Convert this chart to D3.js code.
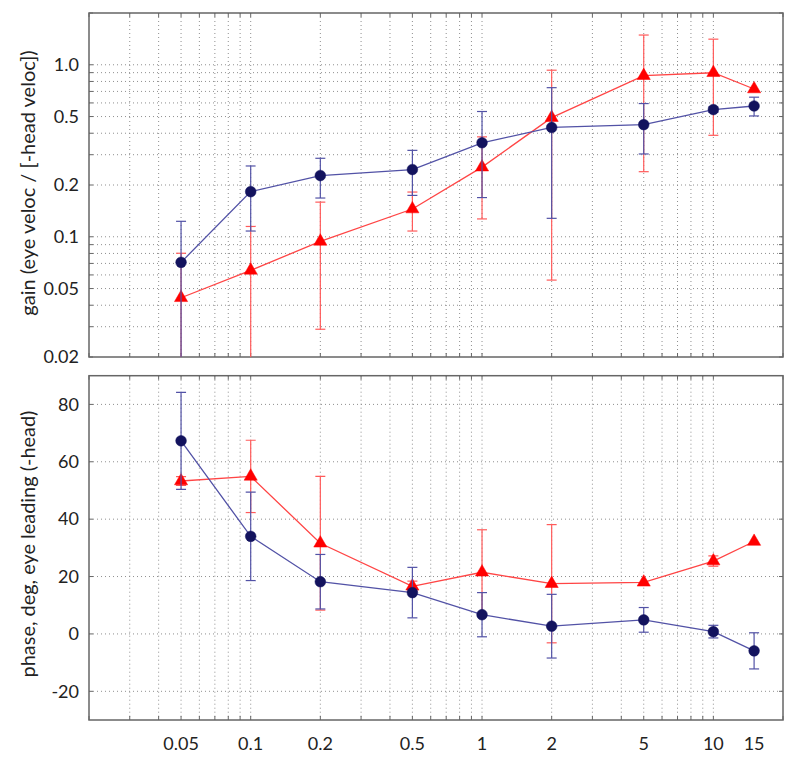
<!DOCTYPE html>
<html>
<head>
<meta charset="utf-8">
<script src="https://cdn.jsdelivr.net/npm/d3@7/dist/d3.min.js"></script>
<style>
  body { margin: 0; background: #fff; }
  svg { display: block; }
  text { font-family: Lato, "Open Sans", "DejaVu Sans", sans-serif; fill: #222; }
</style>
</head>
<body>
<svg id="chart" width="800" height="765"></svg>
<script>
// ---------- data ----------
const freqs = [0.05, 0.1, 0.2, 0.5, 1, 2, 5, 10, 15];
const xTickValues = [0.05, 0.1, 0.2, 0.5, 1, 2, 5, 10, 15];
const xTickLabels = ["0.05", "0.1", "0.2", "0.5", "1", "2", "5", "10", "15"];

const gainBlue    = [0.071, 0.183, 0.227, 0.246, 0.352, 0.432, 0.449, 0.549, 0.576];
const gainBlueErr = [0.052, 0.075, 0.059, 0.072, 0.183, 0.304, 0.146, 0.020, 0.072];
const gainRed     = [0.0442, 0.0638, 0.094, 0.145, 0.254, 0.493, 0.864, 0.899, 0.723];
const gainRedErr  = [0.036, 0.051, 0.065, 0.037, 0.127, 0.437, 0.625, 0.510, 0];

const phaseBlue    = [67.3, 34.0, 18.2, 14.4, 6.7, 2.7, 4.9, 0.8, -5.9];
const phaseBlueErr = [16.9, 15.4, 9.5, 8.8, 7.7, 11.1, 4.3, 2.2, 6.3];
const phaseRed     = [53.3, 54.9, 31.6, 16.6, 21.5, 17.5, 18.0, 25.4, 32.2];
const phaseRedErr  = [1.5, 12.6, 23.3, 1.8, 14.8, 20.6, 0, 1.8, 0];

const gainTickValues = [0.02, 0.05, 0.1, 0.2, 0.5, 1.0];
const gainTickLabels = ["0.02", "0.05", "0.1", "0.2", "0.5", "1.0"];
const phaseTickValues = [-20, 0, 20, 40, 60, 80];
const phaseTickLabels = ["-20", "0", "20", "40", "60", "80"];

const gainTitle = "gain (eye veloc / [-head veloc])";
const phaseTitle = "phase, deg, eye leading (-head)";

// ---------- styles ----------
const blueLine = "#5252a6", blueMarker = "#13135e";
const redLine = "#ff4545", redErrColor = "#ff5a5a", redMarker = "#ff0000";
const gridColor = "#8f8f8f", boxColor = "#666";

const svg = d3.select("#chart");
const left = 89, right = 783;

const x = d3.scaleLog().domain([0.02, 20]).range([left, right]);

function logMinor(lo, hi) {
  const out = [];
  for (let e = Math.floor(Math.log10(lo)); e <= Math.ceil(Math.log10(hi)); e++) {
    for (let m = 1; m <= 9; m++) {
      const v = m * Math.pow(10, e);
      if (v >= lo * 0.9999 && v <= hi * 1.0001) out.push(v);
    }
  }
  return out;
}
const xGrid = logMinor(0.02, 20);

function panel(cfg) {
  const g = svg.append("g");
  const y = cfg.y;
  const [yb, yt] = y.range();
  const clipId = "clip" + cfg.id;
  svg.append("defs").append("clipPath").attr("id", clipId)
    .append("rect").attr("x", left).attr("y", yt).attr("width", right - left).attr("height", yb - yt);

  const grid = g.append("g");
  grid.selectAll("line.vx").data(xGrid.filter(v => x(v) > left + 1 && x(v) < right - 1)).enter()
    .append("line").attr("x1", d => x(d)).attr("x2", d => x(d)).attr("y1", yt).attr("y2", yb)
    .attr("stroke", gridColor).attr("stroke-width", 1).attr("stroke-dasharray", "1,3");
  grid.selectAll("line.hy").data(cfg.yGrid.filter(v => y(v) > yt + 1 && y(v) < yb - 1)).enter()
    .append("line").attr("x1", left).attr("x2", right).attr("y1", d => y(d)).attr("y2", d => y(d))
    .attr("stroke", gridColor).attr("stroke-width", 1).attr("stroke-dasharray", "1,3");

  const ticks = g.append("g").attr("stroke", boxColor).attr("stroke-width", 1);
  xGrid.forEach(v => {
    const len = 4;
    ticks.append("line").attr("x1", x(v)).attr("x2", x(v)).attr("y1", yb).attr("y2", yb - len);
    ticks.append("line").attr("x1", x(v)).attr("x2", x(v)).attr("y1", yt).attr("y2", yt + len);
  });
  cfg.yGrid.forEach(v => {
    const len = 4;
    ticks.append("line").attr("x1", left).attr("x2", left + len).attr("y1", y(v)).attr("y2", y(v));
    ticks.append("line").attr("x1", right).attr("x2", right - len).attr("y1", y(v)).attr("y2", y(v));
  });

  g.append("rect").attr("x", left).attr("y", yt).attr("width", right - left).attr("height", yb - yt)
    .attr("fill", "none").attr("stroke", boxColor).attr("stroke-width", 1.5);

  g.selectAll("text.yl").data(cfg.yTicks).enter().append("text")
    .attr("x", 79).attr("y", d => y(d)).attr("dy", "0.35em")
    .attr("text-anchor", "end").attr("font-size", 18)
    .text((d, i) => cfg.yLabels[i]);

  // y title, sized to match the reference length
  const t = g.append("text")
    .attr("transform", `translate(35,${cfg.titleY}) rotate(-90)`)
    .attr("text-anchor", "middle").attr("font-size", 18)
    .text(cfg.title);
  const len = t.node().getComputedTextLength();
  if (len > 0) t.attr("font-size", Math.min(20, Math.max(15, 18 * cfg.titleLen / len)));

  const plot = g.append("g").attr("clip-path", `url(#${clipId})`);
  const yMin = y.domain()[0];
  function series(vals, errs, lineColor, errColor, markerColor, shape) {
    const sg = plot.append("g");
    vals.forEach((v, i) => {
      const e = errs[i];
      if (!e) return;
      const hi = v + e;
      const lo = v - e;
      const loClipped = cfg.log ? lo <= yMin : false;
      const yHi = y(hi);
      const yLo = loClipped ? yb + 5 : y(lo);
      const cx = x(freqs[i]);
      sg.append("line").attr("x1", cx).attr("x2", cx).attr("y1", yHi).attr("y2", yLo)
        .attr("stroke", errColor).attr("stroke-width", 1.2);
      sg.append("line").attr("x1", cx - 5).attr("x2", cx + 5).attr("y1", yHi).attr("y2", yHi)
        .attr("stroke", errColor).attr("stroke-width", 1.2);
      if (!loClipped)
        sg.append("line").attr("x1", cx - 5).attr("x2", cx + 5).attr("y1", yLo).attr("y2", yLo)
          .attr("stroke", errColor).attr("stroke-width", 1.2);
    });
    sg.append("path").datum(vals)
      .attr("d", d3.line().x((d, i) => x(freqs[i])).y(d => y(d)))
      .attr("fill", "none").attr("stroke", lineColor).attr("stroke-width", 1.3);
    const sym = d3.symbol().type(shape === "circle" ? d3.symbolCircle : d3.symbolTriangle)
      .size(shape === "circle" ? 90 : 75);
    sg.selectAll("path.m").data(vals).enter().append("path")
      .attr("transform", (d, i) => `translate(${x(freqs[i])},${y(d)})`)
      .attr("d", sym).attr("fill", markerColor).attr("stroke", markerColor).attr("stroke-width", 0.5);
  }
  series(cfg.red, cfg.redErr, redLine, redErrColor, redMarker, "triangle");
  series(cfg.blue, cfg.blueErr, blueLine, blueLine, blueMarker, "circle");
  return g;
}

const yGain = d3.scaleLog().domain([0.02, 2]).range([357, 13]);
panel({
  id: "g", y: yGain, log: true,
  yGrid: logMinor(0.02, 2),
  yTicks: gainTickValues, yLabels: gainTickLabels,
  title: gainTitle, titleY: 183, titleLen: 282,
  blue: gainBlue, blueErr: gainBlueErr, red: gainRed, redErr: gainRedErr
});

const yPhase = d3.scaleLinear().domain([-30, 90]).range([720, 375.7]);
panel({
  id: "p", y: yPhase, log: false,
  yGrid: phaseTickValues,
  yTicks: phaseTickValues, yLabels: phaseTickLabels,
  title: phaseTitle, titleY: 544, titleLen: 267,
  blue: phaseBlue, blueErr: phaseBlueErr, red: phaseRed, redErr: phaseRedErr
});

svg.append("g").selectAll("text").data(xTickValues).enter().append("text")
  .attr("x", d => x(d)).attr("y", 750)
  .attr("text-anchor", "middle").attr("font-size", 18)
  .text((d, i) => xTickLabels[i]);
</script>
</body>
</html>
